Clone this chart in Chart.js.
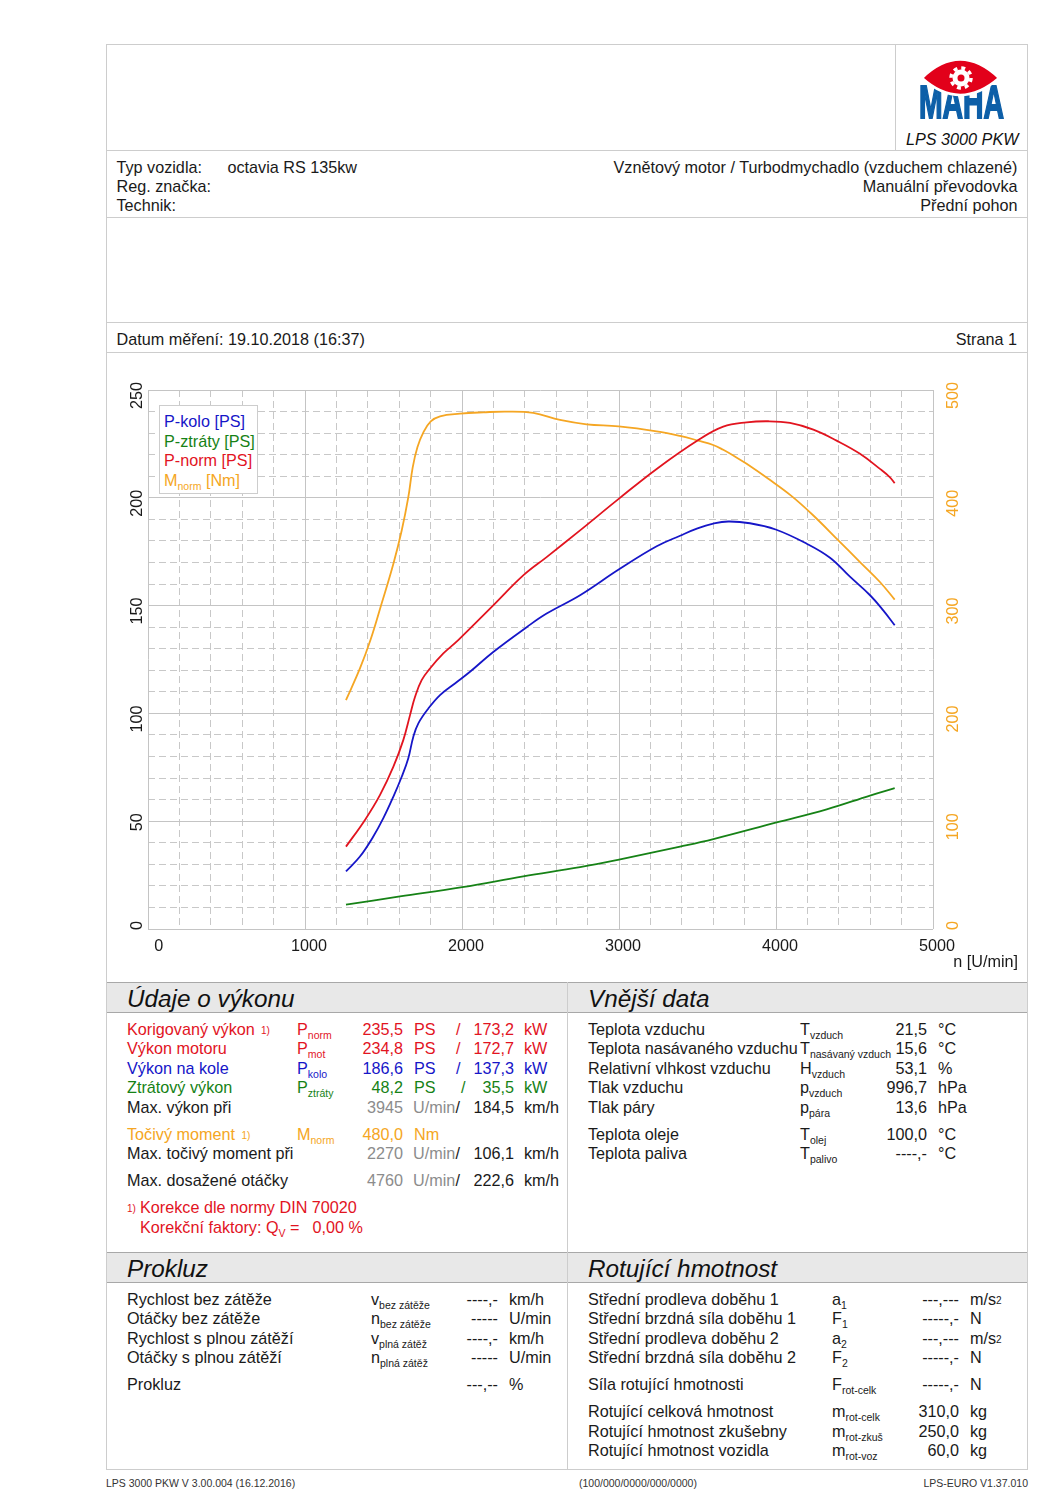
<!DOCTYPE html>
<html>
<head>
<meta charset="utf-8">
<title>LPS 3000 PKW</title>
<script src="https://cdn.jsdelivr.net/npm/chart.js@4/dist/chart.umd.min.js"></script>
<style>
    html, body { margin: 0; padding: 0; background: #fff; }
    #page { position: relative; width: 1060px; height: 1500px; overflow: hidden; font-family: "Liberation Sans", Arial, sans-serif; font-size: 16.2px; color: #1a1a1a; }
    #page div.t { position: absolute; white-space: pre; line-height: 20px; height: 20px; }
    #page div.ln { position: absolute; background: #cdcdcd; }
    #page div.head { position: absolute; background: #e8e8e8; border-top: 1px solid #a8a8a8; border-bottom: 1px solid #a8a8a8; }
    sub { font-size: 10.5px; vertical-align: -4px; line-height: 0; }
    sup { font-size: 10px; vertical-align: 1px; line-height: 0; }
    canvas { position: absolute; left: 106px; top: 353px; }
    #legend { position: absolute; left: 159px; top: 405px; width: 97px; height: 87px; background: #fff; border: 1px solid #cdcdcd; }
    svg { position: absolute; left: 0; top: 0; }
</style>
</head>
<body>
<div id="page">
    <canvas id="chart" width="922" height="628"></canvas>
    <div id="legend"></div>
</div>
<script>
// Curves: engine speed (U/min) and value per series
const rpmKolo = [1261, 1350, 1435, 1499, 1563, 1616, 1658, 1690, 1722, 1786, 1860, 1955, 2051, 2199, 2412, 2539, 2752, 2998, 3240, 3389, 3500, 3600, 3696, 3834, 3998, 4196, 4344, 4471, 4599, 4683, 4756];
const pKolo = [26.7, 33.6, 42.9, 51.4, 61.4, 70.6, 79.2, 89.2, 95.4, 102.3, 108.5, 113.9, 119.3, 128.5, 140, 146.3, 154.8, 166.7, 177.5, 182.4, 185.8, 188, 189, 188.2, 185.3, 178.7, 172.2, 163.4, 154.8, 147.8, 140.9];

const rpmZtraty = [1261, 1605, 2002, 2390, 2752, 3000, 3389, 3601, 3998, 4323, 4599, 4756];
const pZtraty = [11.3, 15.1, 19.4, 24.4, 28.7, 32.2, 38.2, 41.7, 49.3, 55.5, 61.9, 65.3];

const rpmNorm = [1261, 1382, 1478, 1563, 1626, 1669, 1701, 1743, 1796, 1881, 1976, 2199, 2390, 2539, 2752, 2998, 3240, 3505, 3664, 3813, 3951, 4089, 4238, 4386, 4535, 4662, 4726, 4756];
const pNorm = [38.2, 50.6, 62.2, 75.3, 87.6, 99.2, 107.7, 115.4, 120.8, 127.8, 134, 150.1, 164, 172.5, 184.9, 199.5, 213.4, 226.8, 233, 235, 235.5, 234.7, 231.6, 226.5, 220.4, 213.4, 209.5, 206.8];

const rpmMoment = [1261, 1350, 1418, 1488, 1563, 1616, 1658, 1686, 1716, 1754, 1801, 1860, 1987, 2136, 2285, 2454, 2624, 2794, 2998, 3240, 3389, 3505, 3600, 3664, 3730, 3813, 3951, 4096, 4238, 4397, 4535, 4662, 4756];
const mNorm = [212.3, 241.7, 268.5, 301.9, 338.9, 369.7, 400.6, 428.3, 446.9, 460.7, 470.9, 475.6, 478, 479.3, 480, 478.7, 472.2, 468.2, 466.3, 461.7, 457.4, 453, 449, 444.5, 439, 431.5, 417.6, 402, 383.6, 360.5, 340.4, 321.9, 305.6];

// Axis setup
const rpmMax = 5000;
const powerMax = 250;
const torqueMax = 500;
const rpmMajor = 1000;
const rpmMinor = 200;
const powerMajor = 50;
const powerMinor = 10;
const torqueStep = 100;

const BLUE = '#1616c8';
const GREEN = '#168216';
const RED = '#e2141f';
const ORANGE = '#f5a623';
const GREY = '#8c8c8c';
const TICK_FONT = { family: '"Liberation Sans", Arial, sans-serif', size: 16.2 };

const page = document.getElementById('page');

// Put one piece of text on the page, y is the middle of the line
function put(x, y, html, color, align, style) {
    const el = document.createElement('div');
    el.className = 't';
    el.innerHTML = html;
    el.style.top = (y - 10) + 'px';
    if (align === 'right') el.style.right = (1060 - x) + 'px';
    else el.style.left = x + 'px';
    if (color) el.style.color = color;
    if (style) Object.assign(el.style, style);
    page.appendChild(el);
}

function line(x, y, w, h) {
    const el = document.createElement('div');
    el.className = 'ln';
    el.style.cssText = `left:${x}px;top:${y}px;width:${w}px;height:${h}px`;
    page.appendChild(el);
}

function header(x, y, w, title) {
    const el = document.createElement('div');
    el.className = 'head';
    el.style.cssText = `left:${x}px;top:${y}px;width:${w}px;height:29px`;
    page.insertBefore(el, page.firstChild);
    put(x + 21, y + 17, title, '#111', 'left', { fontStyle: 'italic', fontSize: '24.3px' });
}

function sym(letter, index) {
    return `${letter}<sub>${index}</sub>`;
}

// Frame of the report
function drawFrame() {
    line(106, 44, 922, 1);
    line(106, 44, 1, 1426);
    line(1027, 44, 1, 1426);
    line(106, 1469, 922, 1);
    line(895, 44, 1, 106);
    line(106, 150, 922, 1);
    line(106, 217, 922, 1);
    line(106, 322, 922, 1);
    line(106, 352, 922, 1);
    line(567, 982, 1, 488);
    header(106, 982, 461, 'Údaje o výkonu');
    header(567, 982, 461, 'Vnější data');
    header(106, 1252, 461, 'Prokluz');
    header(567, 1252, 461, 'Rotující hmotnost');
}

function drawHeaderTexts() {
    put(906, 139, 'LPS 3000 PKW', '#111', 'left', { fontStyle: 'italic' });
    put(116.5, 166.5, 'Typ vozidla:');
    put(227.5, 166.5, 'octavia RS 135kw');
    put(116.5, 186, 'Reg. značka:');
    put(116.5, 205, 'Technik:');
    put(1017.5, 166.5, 'Vznětový motor / Turbodmychadlo (vzduchem chlazené)', null, 'right');
    put(1017.5, 186, 'Manuální převodovka', null, 'right');
    put(1017.5, 205, 'Přední pohon', null, 'right');
    put(116.5, 339, 'Datum měření: 19.10.2018 (16:37)');
    put(1017, 339, 'Strana 1', null, 'right');
    put(1018, 961, 'n [U/min]', null, 'right');

    const small = { fontSize: '10.5px', color: '#333' };
    put(106, 1483, 'LPS 3000 PKW V 3.00.004 (16.12.2016)', null, 'left', small);
    put(579, 1483, '(100/000/0000/000/0000)', null, 'left', small);
    put(1028, 1483, 'LPS-EURO V1.37.010', null, 'right', small);
}

function drawLegend() {
    put(164, 421, 'P-kolo [PS]', BLUE);
    put(164, 441, 'P-ztráty [PS]', GREEN);
    put(164, 460, 'P-norm [PS]', RED);
    put(164, 480, sym('M', 'norm') + ' [Nm]', ORANGE);
}

function drawPerformance() {
    const rows = [
        [1029, 'Korigovaný výkon', 'P', 'norm', '235,5', '173,2', RED, 458],
        [1048, 'Výkon motoru', 'P', 'mot', '234,8', '172,7', RED, 458],
        [1068, 'Výkon na kole', 'P', 'kolo', '186,6', '137,3', BLUE, 458],
        [1087, 'Ztrátový výkon', 'P', 'ztráty', '48,2', '35,5', GREEN, 463]
    ];
    rows.forEach(([y, label, s, idx, ps, kw, color, slash]) => {
        put(127, y, label, color);
        put(297, y, sym(s, idx), color);
        put(403, y, ps, color, 'right');
        put(414, y, 'PS', color);
        put(slash - 2, y, '/', color);
        put(514, y, kw, color, 'right');
        put(524, y, 'kW', color);
    });
    put(261, 1029, '<sup>1)</sup>', RED);

    const speeds = [[1107, 'Max. výkon při', '3945', '184,5'], [1153, 'Max. točivý moment při', '2270', '106,1'], [1180, 'Max. dosažené otáčky', '4760', '222,6']];
    speeds.forEach(([y, label, rpm, kmh]) => {
        put(127, y, label);
        put(403, y, rpm, GREY, 'right');
        put(413, y, 'U/min', GREY);
        put(455.5, y, '/');
        put(514, y, kmh, null, 'right');
        put(524, y, 'km/h');
    });

    put(127, 1134, 'Točivý moment', ORANGE);
    put(241.5, 1134, '<sup>1)</sup>', ORANGE);
    put(297, 1134, sym('M', 'norm'), ORANGE);
    put(403, 1134, '480,0', ORANGE, 'right');
    put(414, 1134, 'Nm', ORANGE);

    put(127, 1207, '<sup>1)</sup>', RED);
    put(140, 1207, 'Korekce dle normy DIN 70020', RED);
    put(140, 1227, 'Korekční faktory: ' + sym('Q', 'V') + ' =', RED);
    put(363, 1227, '0,00 %', RED, 'right');
}

function drawExternal() {
    const rows = [
        [1029, 'Teplota vzduchu', sym('T', 'vzduch'), '21,5', '°C'],
        [1048, 'Teplota nasávaného vzduchu', sym('T', 'nasávaný vzduch'), '15,6', '°C'],
        [1068, 'Relativní vlhkost vzduchu', sym('H', 'vzduch'), '53,1', '%'],
        [1087, 'Tlak vzduchu', sym('p', 'vzduch'), '996,7', 'hPa'],
        [1107, 'Tlak páry', sym('p', 'pára'), '13,6', 'hPa'],
        [1134, 'Teplota oleje', sym('T', 'olej'), '100,0', '°C'],
        [1153, 'Teplota paliva', sym('T', 'palivo'), '----,-', '°C']
    ];
    rows.forEach(([y, label, s, val, unit]) => {
        put(588, y, label);
        put(800, y, s);
        put(927, y, val, null, 'right');
        put(938, y, unit);
    });
}

function drawSlip() {
    const rows = [
        [1299, 'Rychlost bez zátěže', sym('v', 'bez zátěže'), '----,-', 'km/h'],
        [1318, 'Otáčky bez zátěže', sym('n', 'bez zátěže'), '-----', 'U/min'],
        [1338, 'Rychlost s plnou zátěží', sym('v', 'plná zátěž'), '----,-', 'km/h'],
        [1357, 'Otáčky s plnou zátěží', sym('n', 'plná zátěž'), '-----', 'U/min'],
        [1384, 'Prokluz', '', '---,--', '%']
    ];
    rows.forEach(([y, label, s, val, unit]) => {
        put(127, y, label);
        put(371, y, s);
        put(498, y, val, null, 'right');
        put(509, y, unit);
    });
}

function drawRotating() {
    const rows = [
        [1299, 'Střední prodleva doběhu 1', sym('a', '1'), '---,---', 'm/s<sup>2</sup>'],
        [1318, 'Střední brzdná síla doběhu 1', sym('F', '1'), '-----,-', 'N'],
        [1338, 'Střední prodleva doběhu 2', sym('a', '2'), '---,---', 'm/s<sup>2</sup>'],
        [1357, 'Střední brzdná síla doběhu 2', sym('F', '2'), '-----,-', 'N'],
        [1384, 'Síla rotující hmotnosti', sym('F', 'rot-celk'), '-----,-', 'N'],
        [1411, 'Rotující celková hmotnost', sym('m', 'rot-celk'), '310,0', 'kg'],
        [1431, 'Rotující hmotnost zkušebny', sym('m', 'rot-zkuš'), '250,0', 'kg'],
        [1450, 'Rotující hmotnost vozidla', sym('m', 'rot-voz'), '60,0', 'kg']
    ];
    rows.forEach(([y, label, s, val, unit]) => {
        put(588, y, label);
        put(832, y, s);
        put(959, y, val, null, 'right');
        put(970, y, unit);
    });
}

// MAHA logo
function drawLogo() {
    const logo = `<svg width="1060" height="160" xmlns="http://www.w3.org/2000/svg">
        <text x="919" y="118" font-family="Liberation Sans" font-weight="bold" font-size="46" fill="#0d5fa8" stroke="#0d5fa8" stroke-width="1.8" textLength="85" lengthAdjust="spacingAndGlyphs">MAHA</text>
        <path d="M922,78 Q960,41 999,78 Q960,112 922,78 Z" fill="#e2001a" stroke="#fff" stroke-width="2.5"/>
        <circle cx="961" cy="78" r="10" fill="none" stroke="#fff" stroke-width="3.5" stroke-dasharray="3.9 3.95"/>
        <circle cx="961" cy="78" r="8.5" fill="#fff"/>
        <circle cx="961" cy="78" r="3.5" fill="#e2001a"/>
    </svg>`;
    page.insertAdjacentHTML('beforeend', logo);
}

function zip(xs, ys) {
    return xs.map((x, i) => ({ x: x, y: ys[i] }));
}

function curve(label, xs, ys, color, axis) {
    return {
        label: label,
        data: zip(xs, ys),
        borderColor: color,
        backgroundColor: color,
        borderWidth: 1.8,
        pointRadius: 0,
        tension: 0.4,
        yAxisID: axis,
        xAxisID: 'x'
    };
}

// Dashed minor grid lives on its own hidden scale, Chart.js has one dash per scale
function minorAxis(axis, position, max, step, majorStep) {
    return {
        type: 'linear',
        axis: axis,
        position: position,
        min: 0,
        max: max,
        ticks: { display: false, stepSize: step },
        grid: {
            drawTicks: false,
            lineWidth: 1,
            color: ctx => (ctx.tick && ctx.tick.value % majorStep === 0) ? 'rgba(0,0,0,0)' : '#c8c8c8'
        },
        border: { display: false, dash: [7, 4] },
        afterFit: s => { if (axis === 'x') s.height = 0; else s.width = 0; }
    };
}

function createChart() {
    const ctx = document.getElementById('chart');
    new Chart(ctx, {
        type: 'line',
        data: {
            datasets: [
                curve('P-kolo [PS]', rpmKolo, pKolo, BLUE, 'y'),
                curve('P-ztráty [PS]', rpmZtraty, pZtraty, GREEN, 'y'),
                curve('P-norm [PS]', rpmNorm, pNorm, RED, 'y'),
                curve('Mnorm [Nm]', rpmMoment, mNorm, ORANGE, 'yRight')
            ]
        },
        options: {
            responsive: false,
            animation: false,
            layout: { padding: { top: 37 } },
            plugins: { legend: { display: false }, title: { display: false }, tooltip: { enabled: false } },
            scales: {
                xMinor: minorAxis('x', 'bottom', rpmMax, rpmMinor, rpmMajor),
                yMinor: minorAxis('y', 'left', powerMax, powerMinor, powerMajor),
                x: {
                    type: 'linear',
                    position: 'bottom',
                    min: 0,
                    max: rpmMax,
                    ticks: {
                        stepSize: rpmMajor,
                        autoSkip: false,
                        maxRotation: 0,
                        padding: 8,
                        labelOffset: 4,
                        color: '#1a1a1a',
                        font: TICK_FONT,
                        callback: v => v === 0 ? '   0' : String(v)
                    },
                    grid: { drawTicks: false, color: '#c4c4c4' },
                    border: { display: false },
                    afterFit: s => { s.height = 52; }
                },
                y: {
                    type: 'linear',
                    position: 'left',
                    min: 0,
                    max: powerMax,
                    ticks: {
                        stepSize: powerMajor,
                        minRotation: 90,
                        maxRotation: 90,
                        padding: 10,
                        labelOffset: -8,
                        color: '#1a1a1a',
                        font: TICK_FONT,
                        callback: v => String(v)
                    },
                    grid: { drawTicks: false, color: '#c4c4c4' },
                    border: { display: false },
                    afterFit: s => { s.width = 42; }
                },
                yRight: {
                    type: 'linear',
                    position: 'right',
                    min: 0,
                    max: torqueMax,
                    ticks: {
                        stepSize: torqueStep,
                        minRotation: 90,
                        maxRotation: 90,
                        // mirror keeps the label from being clipped to the scale box
                        mirror: true,
                        padding: 21,
                        labelOffset: -8,
                        color: ORANGE,
                        font: TICK_FONT,
                        callback: v => String(v)
                    },
                    grid: { drawOnChartArea: false, drawTicks: false },
                    border: { display: false },
                    afterFit: s => { s.width = 95; }
                }
            }
        }
    });
}

drawFrame();
drawHeaderTexts();
drawLegend();
drawPerformance();
drawExternal();
drawSlip();
drawRotating();
drawLogo();
createChart();
</script>
</body>
</html>
